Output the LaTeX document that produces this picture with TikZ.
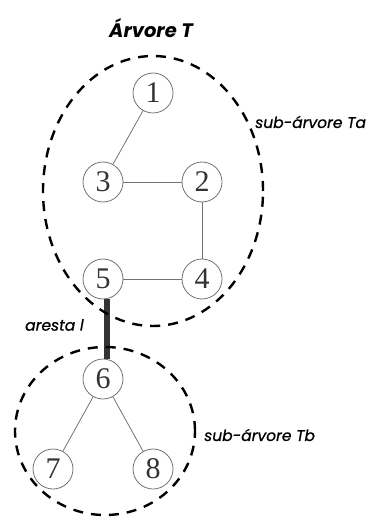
\documentclass[tikz,border=0pt]{standalone}
\usepackage{fontspec}
\usetikzlibrary{shapes.geometric}
\newfontfamily\vertfont{Liberation Serif}
\newfontfamily\labfont{Poppins}[ItalicFeatures={FakeBold=0.8}]
\newfontfamily\titlefont{Poppins}
\begin{document}
\begin{tikzpicture}[x=1pt,y=-1pt,
  vert/.style={circle, draw=black!55, line width=0.8pt, minimum size=40pt, inner sep=0pt,
    text=black!80, font=\vertfont\fontsize{30}{30}\selectfont},
  tedge/.style={draw=black!55, line width=0.8pt},
  cut/.style={draw=black!80, line width=6.5pt},
  region/.style={ellipse, draw=black, line width=2.4pt, dash pattern=on 10pt off 8pt, inner sep=0pt},
  lab/.style={font=\labfont\itshape\fontsize{15.5}{18}\selectfont, text=black, inner sep=0pt, anchor=west},
  title/.style={font=\titlefont\bfseries\itshape\fontsize{19.5}{22}\selectfont, text=black, inner sep=0pt}]
\useasboundingbox (0,0) rectangle (376,521);

% title
\node[title] (title) at (151,28) {Árvore T};

% vertices
\node[vert] (v1) at (153,93) {1};
\node[vert] (v3) at (103,182) {3};
\node[vert] (v2) at (202,182) {2};
\node[vert] (v5) at (103,279) {5};
\node[vert] (v4) at (202,279) {4};
\node[vert] (v6) at (103,379) {6};
\node[vert] (v7) at (53,469) {7};
\node[vert] (v8) at (153,469) {8};

% tree edges
\draw[tedge] (v1) -- (v3);
\draw[tedge] (v3) -- (v2);
\draw[tedge] (v2) -- (v4);
\draw[tedge] (v4) -- (v5);
\draw[tedge] (v6) -- (v7);
\draw[tedge] (v6) -- (v8);

% the edge joining the two sub-trees
\draw[cut] ([xshift=4pt]v5.south) -- ([xshift=4pt]v6.north);

% sub-tree regions
\node[region, minimum width=220pt, minimum height=270pt] (Ta) at (153,191) {};
\node[region, minimum width=180pt, minimum height=168pt] (Tb) at (105,431) {};

% labels
\node[lab] (laba) at (255,122) {sub-árvore Ta};
\node[lab] (labb) at (204,435) {sub-árvore Tb};
\node[lab] (labl) at (25,325) {aresta l};
\end{tikzpicture}
\end{document}
